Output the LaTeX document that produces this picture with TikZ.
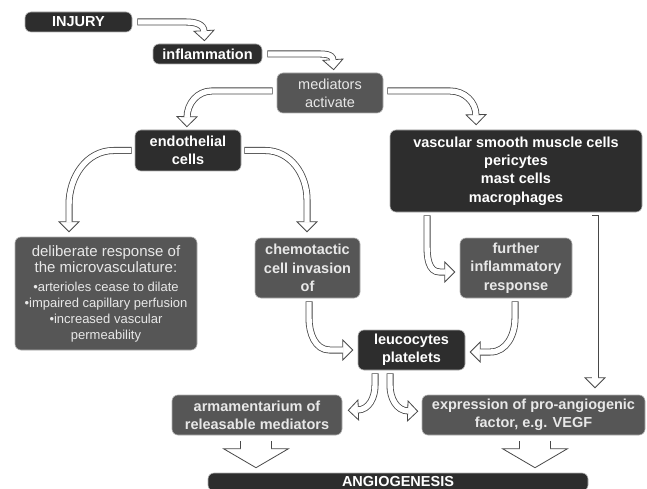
\documentclass[tikz,border=0pt]{standalone}
\usepackage{fontspec}
\setmainfont{Liberation Sans}
\usetikzlibrary{decorations.markings}
\definecolor{boxdark}{HTML}{2D2D2D}
\definecolor{boxmid}{HTML}{565656}
\definecolor{arrowline}{HTML}{484848}
\definecolor{softtext}{HTML}{E8E8E8}
\newcommand{\smalltxt}{\fontsize{13}{16}\selectfont}
\tikzset{
  box/.style={rounded corners=6pt, draw=black!30, line width=0.6pt, text=white, align=center,
    inner sep=0pt, font=\fontsize{14.5}{18.3}\selectfont\bfseries},
  darkbox/.style={box, fill=boxdark},
  midbox/.style={box, fill=boxmid, text=softtext},
  fatarrow/.style={draw=arrowline, line width=7pt,
    postaction={decorate, decoration={markings, mark=at position -0.5pt with
      {\draw[fill=white, draw=arrowline, line width=0.8pt] (-0.5,-10) -- (9.5,0) -- (-0.5,10) -- cycle;}}},
    postaction={draw=white, line width=5.4pt, shorten <=0.8pt}},
  blockarrow/.style={draw=arrowline, line width=32pt,
    postaction={decorate, decoration={markings, mark=at position -0.5pt with
      {\draw[fill=white, draw=arrowline, line width=0.8pt] (-0.5,-32.5) -- (18.5,0) -- (-0.5,32.5) -- cycle;}}},
    postaction={draw=white, line width=30.4pt}}
}
\begin{document}
\begin{tikzpicture}[x=1pt,y=1pt]
\path[use as bounding box] (0,0) rectangle (647,-489);
\clip (0,0) rectangle (647,-489);
\fill[white] (0,0) rectangle (647,-489);

\node[darkbox, minimum width=107pt, minimum height=20pt] (injury) at (78.5,-22) {INJURY};
\node[darkbox, minimum width=109pt, minimum height=20pt] (inflam) at (207.5,-54) {inflammation};
\node[midbox, minimum width=106pt, minimum height=40pt, font=\fontsize{14.5}{18.3}\selectfont] (mediators) at (330,-93) {mediators\\activate};
\node[darkbox, minimum width=106pt, minimum height=41pt] (endo) at (188,-150.5) {endothelial\\cells};
\node[darkbox, minimum width=252pt, minimum height=82pt] (vascular) at (516,-171) {vascular smooth muscle cells\\pericytes\\mast cells\\macrophages};
\node[midbox, minimum width=182pt, minimum height=113pt, font=\fontsize{15}{16}\selectfont] (deliberate) at (106,-293.5)
  {deliberate response of\\the microvasculature:\\[3pt]\smalltxt •arterioles cease to dilate\\\smalltxt •impaired capillary perfusion\\\smalltxt •increased vascular\\\smalltxt permeability};
\node[midbox, minimum width=105pt, minimum height=60pt] (chemo) at (307.5,-268) {chemotactic\\cell invasion\\of};
\node[midbox, minimum width=112pt, minimum height=60pt] (further) at (516,-268) {further\\inflammatory\\response};
\node[darkbox, minimum width=107pt, minimum height=40pt] (leuco) at (411.5,-350) {leucocytes\\platelets};
\node[midbox, minimum width=170pt, minimum height=40pt] (armament) at (257,-415) {armamentarium of\\releasable mediators};
\node[midbox, minimum width=223pt, minimum height=40pt] (expression) at (533.5,-415) {expression of pro-angiogenic\\factor, e.g. VEGF};
\node[darkbox, minimum width=380pt, minimum height=18pt] (angio) at (398,-482) {ANGIOGENESIS};

\draw[fatarrow] ([xshift=5pt]injury.east) -- ++(49,0) to[out=0,in=90] ([shift={(-3.5,12)}]inflam.north);
\draw[fatarrow] ([xshift=5pt]inflam.east) -- ++(48,0) to[out=0,in=90] ([shift={(3,12)}]mediators.north);
\draw[fatarrow] ([shift={(-4,2)}]mediators.west) -- ++(-61,0) to[out=180,in=90] ([shift={(-1,12)}]endo.north);
\draw[fatarrow] ([shift={(4,2)}]mediators.east) -- ++(63,0) to[out=0,in=90] ([shift={(-40,14)}]vascular.north);
\draw[fatarrow] ([xshift=-3pt]endo.west) -- ++(-18,0) to[out=180,in=90] ([shift={(-37,32)}]deliberate.north) -- ([shift={(-37,14)}]deliberate.north);
\draw[fatarrow] ([xshift=3pt]endo.east) -- ++(21,0) to[out=0,in=90] ([shift={(-0.5,38)}]chemo.north) -- ([shift={(-0.5,15)}]chemo.north);
\draw[fatarrow] ([shift={(1.5,-3)}]chemo.south) -- ++(0,-17) to[out=270,in=180] ([shift={(-28,0)}]leuco.west) -- ([shift={(-14,0)}]leuco.west);
\draw[fatarrow] ([shift={(-89,-3)}]vascular.south) -- ++(0,-30) to[out=270,in=180] ([shift={(-20,-4)}]further.west) -- ([shift={(-14,-4)}]further.west);
\draw[fatarrow] ([shift={(-1,-3)}]further.south) -- ++(0,-17) to[out=270,in=0] ([shift={(25,-2)}]leuco.east) -- ([shift={(14,-2)}]leuco.east);
\draw[fatarrow] ([shift={(79,-3)}]vascular.south) -- ([shift={(61.5,16)}]expression.north);
\draw[fatarrow] ([shift={(-36.5,-3)}]leuco.south) -- ++(0,-12) to[out=270,in=0] ([shift={(15,5)}]armament.east);
\draw[fatarrow] ([shift={(-21.5,-3)}]leuco.south) -- ++(0,-12) to[out=270,in=180] ([shift={(-13,4)}]expression.west);
\draw[blockarrow] ([shift={(-1,-6)}]armament.south) -- ([shift={(-142,23)}]angio.north);
\draw[blockarrow] ([shift={(1.5,-6)}]expression.south) -- ([shift={(137,23)}]angio.north);
\end{tikzpicture}
\end{document}
